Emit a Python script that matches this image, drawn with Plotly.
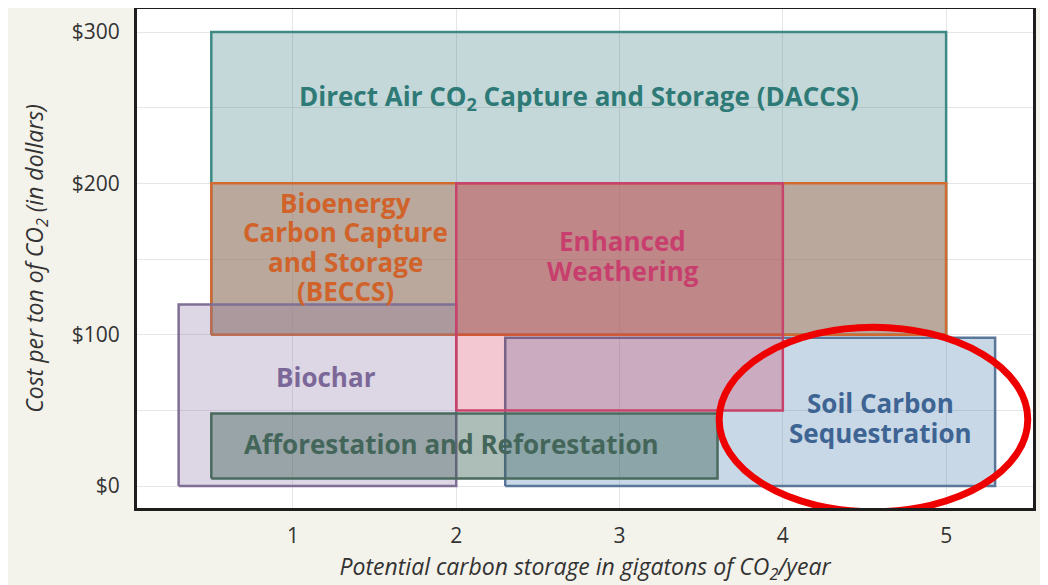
import plotly.graph_objects as go

# ---- data ----
methods = ["DACCS", "BECCS", "Soil Carbon Sequestration", "Biochar",
           "Enhanced Weathering", "Afforestation and Reforestation"]
storage_min = [0.5, 0.5, 2.3, 0.3, 2.0, 0.5]     # Gt CO2/year
storage_max = [5.0, 5.0, 5.3, 2.0, 4.0, 3.6]
cost_min = [100, 100, 0, 0, 50, 5]               # $ per ton
cost_max = [300, 200, 98, 120, 200, 48]

labels = ["Direct Air CO<sub>2</sub> Capture and Storage (DACCS)",
          "Bioenergy<br>Carbon Capture<br>and Storage<br>(BECCS)",
          "Soil Carbon<br>Sequestration",
          "Biochar",
          "Enhanced<br>Weathering",
          "Afforestation and Reforestation"]
label_x = [2.75, 1.32, 4.6, 1.2, 3.02, 1.97]
label_y = [257, 158, 45, 72, 152, 28]

y_ticks = [0, 100, 200, 300]
y_tick_text = ["$0", "$100", "$200", "$300"]
y_grid = [0, 50, 100, 150, 200, 250, 300]
x_ticks = [1, 2, 3, 4, 5]

highlight_x = [3.61, 5.5]
highlight_y = [-17, 105]

# ---- styles ----
fills = ["rgba(58,125,128,0.30)", "rgba(174,120,93,0.50)", "rgba(72,125,172,0.30)",
         "rgba(142,118,165,0.30)", "rgba(208,41,80,0.26)", "rgba(50,90,75,0.40)"]
lines = ["#3d8a84", "#d2692f", "#5a7699", "#7f6f95", "#c8436b", "#4a6a5e"]
text_colors = ["#2e7a77", "#d0622a", "#3e6494", "#7b6898", "#c83f6e", "#44665a"]
LINE_GAP = 29.5  # px between label lines

fig = go.Figure()
for i, m in enumerate(methods):
    x0, x1, y0, y1 = storage_min[i], storage_max[i], cost_min[i], cost_max[i]
    fig.add_trace(go.Scatter(
        x=[x0, x1, x1, x0, x0], y=[y0, y0, y1, y1, y0],
        mode="lines", fill="toself", fillcolor=fills[i],
        line=dict(color=lines[i], width=2.5),
        name=m, hoverinfo="skip", showlegend=False))

for i in range(len(methods)):
    parts = labels[i].split("<br>")
    n = len(parts)
    for k, part in enumerate(parts):
        fig.add_annotation(x=label_x[i], y=label_y[i], text=part, showarrow=False,
                           yshift=((n - 1) / 2 - k) * LINE_GAP,
                           font=dict(family="Open Sans", size=26, color=text_colors[i], weight=700),
                           align="center")

fig.add_shape(type="circle", xref="x", yref="y",
              x0=highlight_x[0], x1=highlight_x[1], y0=highlight_y[0], y1=highlight_y[1],
              line=dict(color="#ee0000", width=7), layer="above")

axis_font = dict(family="Open Sans", size=21, color="#333333")
title_font = dict(family="Open Sans", size=23, color="#333333", style="italic")
fig.update_layout(
    width=1040, height=577,
    margin=dict(l=129, r=15, t=1, b=77, autoexpand=False),
    paper_bgcolor="#f3f2eb", plot_bgcolor="#ffffff",
    xaxis=dict(range=[0.045, 5.532], tickvals=x_ticks, ticktext=[str(v) for v in x_ticks],
               showgrid=True, gridcolor="#e6e6e6", gridwidth=1,
               showline=True, linecolor="#1e1e1e", linewidth=3, mirror=True,
               zeroline=False, ticks="", ticklabelstandoff=7, tickfont=axis_font,
               automargin=False,
               title=dict(text="Potential carbon storage in gigatons of CO<sub>2</sub>/year",
                          font=title_font, standoff=14)),
    yaxis=dict(range=[-14.5, 315.2], tickvals=y_ticks, ticktext=y_tick_text,
               showgrid=False,
               showline=True, linecolor="#1e1e1e", linewidth=3, mirror=True,
               zeroline=False, ticks="", ticklabelstandoff=10, tickfont=axis_font,
               automargin=False,
               minor=dict(tickvals=y_grid, showgrid=True,
                          gridcolor="#e6e6e6", gridwidth=1, ticks=""),
               title=dict(text="Cost per ton of CO<sub>2</sub> (in dollars)",
                          font=title_font, standoff=22)),
)

fig.write_html("out.html")
